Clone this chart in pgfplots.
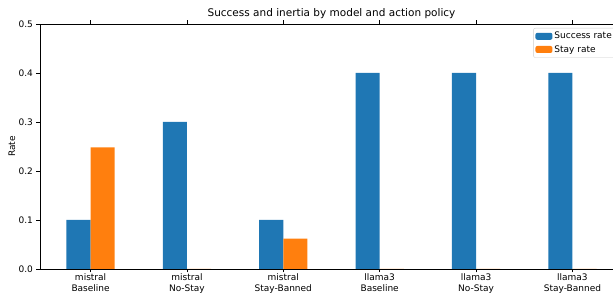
\documentclass[border=0pt]{standalone}
\usepackage{pgfplots}
\pgfplotsset{compat=1.18}
\usepackage{fontspec}
\setmainfont{DejaVu Sans}
\definecolor{c1}{HTML}{1F77B4}
\definecolor{c2}{HTML}{FF7F0E}
\pgfplotstableread{
x success stay
0 0.10 0.248
1 0.30 0.0
2 0.10 0.062
3 0.40 0.0
4 0.40 0.0
5 0.40 0.0
}\datatable
\begin{document}
\begin{tikzpicture}
\begin{axis}[name=ax, scale only axis, width=583pt, height=245pt,
  xmin=-0.525, xmax=5.525, ymin=0, ymax=0.5,
  ybar, bar width=0.25,
  xtick={0,1,2,3,4,5},
  xticklabels={{mistral\\Baseline},{mistral\\No-Stay},{mistral\\Stay-Banned},{llama3\\Baseline},{llama3\\No-Stay},{llama3\\Stay-Banned}},
  xticklabel style={align=center, font=\fontsize{9}{10.5}\selectfont, inner sep=1pt},
  ytick={0,0.1,0.2,0.3,0.4,0.5},
  yticklabel style={font=\fontsize{9}{10.5}\selectfont, /pgf/number format/.cd, fixed, fixed zerofill, precision=1},
  /pgf/number format/assume math mode=true,
  tick align=outside, major tick length=3.5pt,
  tick style={black, line width=0.6pt},
  axis line style={line width=0.6pt},
  title={Success and inertia by model and action policy},
  title style={font=\fontsize{10.5}{12}\selectfont, inner sep=0pt, yshift=-1pt},
  ylabel={Rate},
  ylabel style={font=\fontsize{9}{10.5}\selectfont, at={(axis description cs:-0.048,0.5)}, anchor=center},
  legend style={at={(axis description cs:0.988,0.9837)}, anchor=north east, draw=black!20, rounded corners=2pt, font=\fontsize{9}{10.5}\selectfont, inner sep=2pt, row sep=1pt},
  legend cell align=left,
  legend image code/.code={\fill[#1] (-3pt,-3.5pt) rectangle (14pt,3.5pt);},
]
\addplot[fill=c1, draw=none, bar shift=-0.125] table[x=x, y=success] {\datatable};
\addlegendentry{Success rate}
\addplot[fill=c2, draw=none, bar shift=0.125] table[x=x, y=stay] {\datatable};
\addlegendentry{Stay rate}
\end{axis}
\pgfresetboundingbox
\useasboundingbox ([shift={(-40pt,-27pt)}]ax.south west) rectangle ([shift={(573pt,269pt)}]ax.south west);
\end{tikzpicture}
\end{document}
